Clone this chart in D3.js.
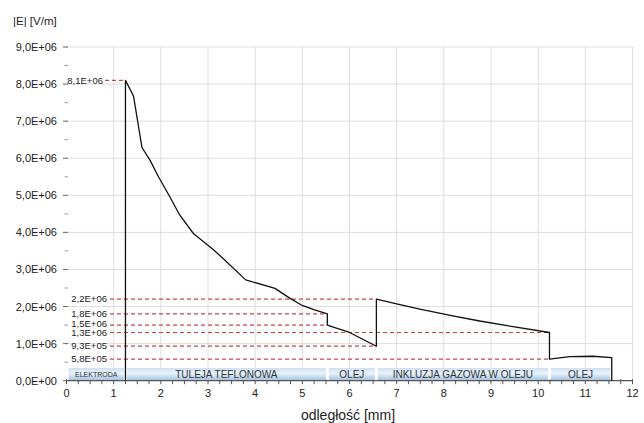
<!DOCTYPE html>
<html><head><meta charset="utf-8">
<script src="https://cdn.jsdelivr.net/npm/d3@7"></script>
<style>
html,body{margin:0;padding:0;background:#fff;}
svg{display:block;font-family:"Liberation Sans",Arial,sans-serif;}
</style></head>
<body>
<svg id="chart" width="644" height="423"></svg>
<script>
// ---- data ----
const curveX = [1.25,1.25,1.42,1.60,1.77,1.95,2.19,2.40,2.69,3.11,3.36,3.80,4.42,4.74,4.98,5.26,5.53,5.53,5.69,5.97,6.57,6.57,7.00,7.49,8.19,8.76,9.50,10.24,10.24,10.67,11.16,11.56,11.56];
const curveY = [0,8.1e6,7.68e6,6.29e6,5.95e6,5.5e6,4.96e6,4.47e6,3.97e6,3.54e6,3.25e6,2.72e6,2.49e6,2.22e6,2.04e6,1.91e6,1.8e6,1.5e6,1.43e6,1.32e6,0.93e6,2.2e6,2.07e6,1.93e6,1.75e6,1.61e6,1.45e6,1.3e6,0.58e6,0.647e6,0.66e6,0.62e6,0];

const markerValues = [8.1e6,2.2e6,1.8e6,1.5e6,1.3e6,9.3e5,5.8e5];
const markerLabels = ["8,1E+06","2,2E+06","1,8E+06","1,5E+06","1,3E+06","9,3E+05","5,8E+05"];
const markerEndX   = [1.25,6.57,5.53,5.53,10.24,6.57,10.24];

const regionStart = [0,1.25,5.53,6.57,10.24];
const regionEnd   = [1.25,5.53,6.57,10.24,11.56];
const regionLabel = ["ELEKTRODA","TULEJA TEFLONOWA","OLEJ","INKLUZJA GAZOWA W OLEJU","OLEJ"];

const xTicks = [0,1,2,3,4,5,6,7,8,9,10,11,12];
const xTickLabels = ["0","1","2","3","4","5","6","7","8","9","10","11","12"];
const yTicks = [0,1e6,2e6,3e6,4e6,5e6,6e6,7e6,8e6,9e6];
const yTickLabels = ["0,0E+00","1,0E+06","2,0E+06","3,0E+06","4,0E+06","5,0E+06","6,0E+06","7,0E+06","8,0E+06","9,0E+06"];

// ---- chart ----
const svg = d3.select("#chart");
const x = d3.scaleLinear().domain([0,12]).range([66.5,632.5]);
const y = d3.scaleLinear().domain([0,9e6]).range([380.7,47]);
const y0 = y(0);

const defs = svg.append("defs");
const grad = defs.append("linearGradient").attr("id","boxgrad").attr("x1",0).attr("y1",0).attr("x2",0).attr("y2",1);
grad.append("stop").attr("offset","0%").attr("stop-color","#cfe0f2");
grad.append("stop").attr("offset","45%").attr("stop-color","#eaf2fa");
grad.append("stop").attr("offset","100%").attr("stop-color","#a6c4e3");

// grid
const g = svg.append("g");
g.selectAll("line.vg").data(xTicks.slice(1)).enter().append("line")
  .attr("x1",d=>x(d)).attr("x2",d=>x(d)).attr("y1",y(9e6)).attr("y2",y0)
  .attr("stroke","#dedede").attr("stroke-width",1);
g.selectAll("line.hg").data(yTicks.slice(1)).enter().append("line")
  .attr("x1",x(0)).attr("x2",x(12)).attr("y1",d=>y(d)).attr("y2",d=>y(d))
  .attr("stroke","#dedede").attr("stroke-width",1);

// y ticks (major + minor)
const yMinor = d3.range(0.5e6, 9e6, 1e6);
g.selectAll("line.ymaj").data(yTicks).enter().append("line")
  .attr("x1",63).attr("x2",68).attr("y1",d=>y(d)).attr("y2",d=>y(d))
  .attr("stroke","#666").attr("stroke-width",1);
g.selectAll("line.ymin").data(yMinor).enter().append("line")
  .attr("x1",64.5).attr("x2",68).attr("y1",d=>y(d)).attr("y2",d=>y(d))
  .attr("stroke","#999").attr("stroke-width",1);
g.selectAll("text.yl").data(yTicks).enter().append("text")
  .attr("x",57).attr("y",d=>y(d)+4).attr("text-anchor","end")
  .attr("font-size","11px").attr("fill","#222").text((d,i)=>yTickLabels[i]);

// region boxes
const rg = svg.append("g");
regionLabel.forEach((lab,i)=>{
  const xa = x(regionStart[i]) + (i===0?2:1.5), xb = x(regionEnd[i]) - 1.5;
  rg.append("rect").attr("x",xa).attr("y",368).attr("width",xb-xa).attr("height",12)
    .attr("fill","url(#boxgrad)");
  rg.append("text").attr("x",(xa+xb)/2).attr("y",i===0?376.5:377.5).attr("text-anchor","middle")
    .attr("font-size",i===0?"7px":"10px").attr("fill","#333").text(lab);
});

// x axis
const xMinor = d3.range(0,12.01,0.25);
g.append("line").attr("x1",x(0)).attr("x2",x(12)).attr("y1",y0).attr("y2",y0)
  .attr("stroke","#555").attr("stroke-width",1.2);
g.selectAll("line.xt").data(xMinor).enter().append("line")
  .attr("x1",d=>x(d)).attr("x2",d=>x(d)).attr("y1",y0-1.5).attr("y2",y0+3.5)
  .attr("stroke","#555").attr("stroke-width",1);
g.selectAll("text.xl").data(xTicks).enter().append("text")
  .attr("x",d=>x(d)).attr("y",397).attr("text-anchor","middle")
  .attr("font-size","11px").attr("fill","#222").text((d,i)=>xTickLabels[i]);

// markers (small vertical nudges keep the tightly packed labels apart)
const labelNudge = [0,0,-0.3,-1.3,0.8,0,0];
const mg = svg.append("g");
markerValues.forEach((v,i)=>{
  mg.append("line").attr("x1", i===0?105:110).attr("x2",x(markerEndX[i]))
    .attr("y1",y(v)).attr("y2",y(v))
    .attr("stroke","#c8454a").attr("stroke-width",1.2).attr("stroke-dasharray","4,3");
  mg.append("text").attr("x", i===0?103:107).attr("y",y(v)+3.2+labelNudge[i]).attr("text-anchor","end")
    .attr("font-size","9.5px").attr("fill","#222").text(markerLabels[i]);
});

// curve
const pts = curveX.map((d,i)=>[d,curveY[i]]);
svg.append("path").datum(pts)
  .attr("d", d3.line().x(d=>x(d[0])).y(d=>y(d[1])))
  .attr("fill","none").attr("stroke","#111").attr("stroke-width",1.3).attr("stroke-linejoin","round");

// titles
svg.append("text").attr("x",13).attr("y",25).attr("font-size","11.5px").attr("fill","#222").text("|E| [V/m]");
svg.append("text").attr("x",348).attr("y",420).attr("text-anchor","middle").attr("font-size","14px").attr("fill","#222").text("odległość [mm]");
</script>
</body></html>
